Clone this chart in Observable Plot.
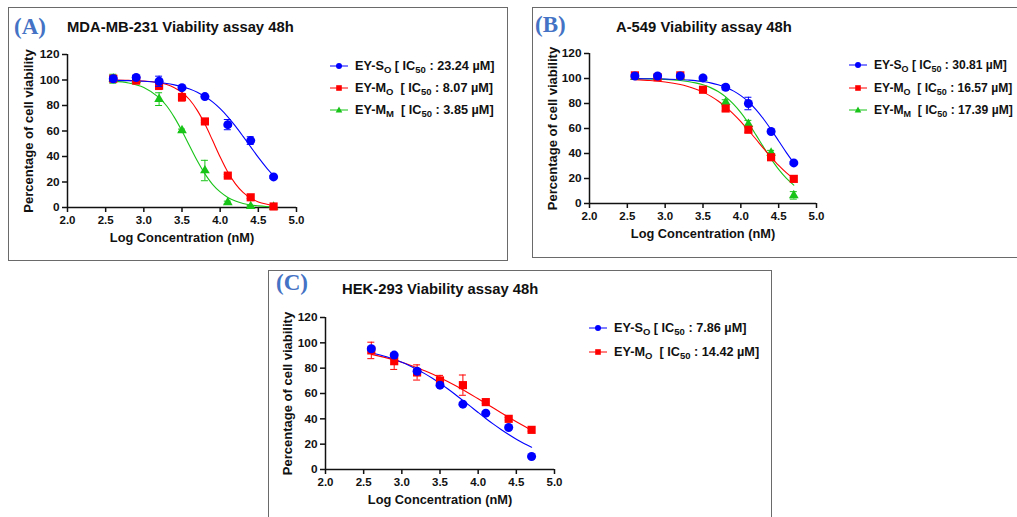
<!DOCTYPE html>
<html><head><meta charset="utf-8">
<script src="https://cdn.jsdelivr.net/npm/d3@7"></script>
<script src="https://cdn.jsdelivr.net/npm/@observablehq/plot@0.6"></script>
<style>
body{margin:0;background:#fff;font-family:Arial,"Liberation Sans",sans-serif;}
#root{position:relative;width:1017px;height:517px;overflow:hidden;background:#fff;}
.box{position:absolute;border:1.5px solid #6a6a6a;box-sizing:border-box;}
.tag{position:absolute;font-family:"Liberation Serif","Times New Roman",serif;font-weight:bold;color:#4472c4;font-size:23px;line-height:23px;white-space:nowrap;}
.title{position:absolute;font-weight:bold;font-size:14.8px;line-height:15px;white-space:nowrap;color:#111;}
.plot{position:absolute;}
.lrow{position:absolute;height:14px;display:flex;align-items:center;font-weight:bold;font-size:12.7px;white-space:nowrap;color:#111;}
.lrow.tight{font-size:12.1px;}
.lrow svg{margin-right:7px;}
.sub{font-size:9.5px;position:relative;top:3px;}
.tight .sub{font-size:9px;}
</style>
</head><body><div id="root"></div>
<script>
// ---------------- data ----------------
const doses = [2.6, 2.9, 3.2, 3.5, 3.8, 4.1, 4.4, 4.7];
const fitX = [2.6, 2.8, 3.0, 3.2, 3.3, 3.4, 3.5, 3.6, 3.7, 3.8, 3.9, 4.0, 4.1, 4.2, 4.3, 4.4, 4.5, 4.6, 4.7];
const xTickValues = [2.0, 2.5, 3.0, 3.5, 4.0, 4.5, 5.0];
const yTickValues = [0, 20, 40, 60, 80, 100, 120];
const seriesNames = ["EY-S_O", "EY-M_O", "EY-M_M"];

// Panel A: MDA-MB-231
const A_So = [101, 102, 99, 94, 87, 65, 52.5, 24];
const A_So_err = [2, 1.5, 4, 1, 1, 4, 3, 1];
const A_Mo = [101, 99.5, 95.5, 86.5, 67.5, 25, 8, 0.8];
const A_Mo_err = [2, 1, 3, 3, 1, 1, 1, 0.5];
const A_Mm = [101, 100, 85, 60.5, 29, 4, 1, 0.5];
const A_Mm_err = [3.5, 1, 5, 1, 8, 1, 0.5, 0.5];
const A_So_fit = [99.7, 99.5, 99.0, 98.0, 97.3, 96.2, 94.8, 92.9, 90.4, 87.0, 82.8, 77.5, 71.1, 63.8, 55.8, 47.5, 39.3, 31.7, 24.9];
const A_Mo_fit = [99.9, 99.7, 99.2, 97.8, 96.4, 94.0, 90.2, 84.5, 76.2, 65.4, 52.7, 39.6, 27.8, 18.5, 11.8, 7.3, 4.4, 2.7, 1.6];
const A_Mm_fit = [99.1, 97.7, 94.2, 86.2, 79.6, 70.7, 60.0, 48.2, 36.6, 26.4, 18.2, 12.2, 7.9, 5.1, 3.2, 2.0, 1.3, 0.8, 0.5];
const A_ic50 = ["23.24", "8.07", "3.85"];

// Panel B: A-549
const B_So = [102, 102, 102, 100.5, 93, 80, 57.6, 32.5];
const B_So_err = [1, 1, 1, 1, 2, 5, 1, 1];
const B_Mo = [102.5, 101, 102.5, 91, 76, 59, 37, 19.7];
const B_Mo_err = [1, 1, 1, 1, 2, 2, 2, 1];
const B_Mm = [101, 101, 101, 100, 81, 63.5, 40.5, 6.5];
const B_Mm_err = [1, 1, 1, 1, 2, 3, 2, 3];
const B_So_fit = [99.9, 99.8, 99.6, 99.2, 98.8, 98.3, 97.5, 96.5, 95.0, 92.9, 90.1, 86.3, 81.4, 75.1, 67.6, 59.1, 50.0, 40.9, 32.4];
const B_Mo_fit = [99.1, 98.4, 97.2, 95.2, 93.6, 91.6, 89.1, 85.9, 82.0, 77.3, 71.7, 65.5, 58.6, 51.4, 44.1, 37.1, 30.5, 24.7, 19.7];
const B_Mm_fit = [99.8, 99.7, 99.3, 98.4, 97.6, 96.5, 95.0, 92.7, 89.6, 85.3, 79.7, 72.7, 64.3, 54.9, 45.1, 35.7, 27.3, 20.3, 14.7];
const B_ic50 = ["30.81", "16.57", "17.39"];

// Panel C: HEK-293
const C_So = [95.3, 90.3, 77.6, 66.6, 51.6, 44.5, 33.2, 10.3];
const C_So_err = [1, 1, 1, 1, 1, 1, 1, 1];
const C_Mo = [94, 85.5, 76.6, 70.3, 66.6, 53.2, 40, 31.3];
const C_Mo_err = [6.5, 6.5, 6, 4, 8, 1, 1, 1];
const C_So_fit = [92.2, 89.0, 84.7, 79.0, 75.7, 72.0, 68.0, 63.7, 59.2, 54.5, 49.8, 45.0, 40.3, 35.8, 31.6, 27.6, 23.9, 20.6, 17.6];
const C_Mo_fit = [90.9, 88.1, 84.7, 80.4, 78.0, 75.4, 72.5, 69.5, 66.3, 62.9, 59.4, 55.8, 52.2, 48.5, 44.8, 41.2, 37.7, 34.3, 31.0];
const C_ic50 = ["7.86", "14.42"];

const titles = ["MDA-MB-231 Viability assay 48h", "A-549 Viability assay 48h", "HEK-293 Viability assay 48h"];
const tags = ["(A)", "(B)", "(C)"];
const yLabel = "Percentage of cell viability";
const xLabel = "Log Concentration (nM)";

// ---------------- styles ----------------
const COLORS = {So: "#0000ff", Mo: "#ff0000", Mm: "#19c419"};
const SYMBOLS = {So: "circle", Mo: "square", Mm: "triangle"};
const RADII = {So: 4.5, Mo: 4.6, Mm: 3.6};

const root = document.getElementById("root");

function el(cls, style, html) {
  const d = document.createElement("div");
  d.className = cls;
  Object.assign(d.style, style);
  if (html != null) d.innerHTML = html;
  root.appendChild(d);
  return d;
}

function points(vals, errs) {
  return doses.map((x, i) => ({x, y: vals[i], e: errs[i]}));
}
function fit(vals) {
  return fitX.map((x, i) => ({x, y: vals[i]}));
}

function panel(cfg) {
  const ml = 60, mr = 16, mt = 16, mb = 50;
  const W = (cfg.x1 - cfg.x0) + ml + mr;
  const H = (cfg.y0 - cfg.y120) + mt + mb;
  const marks = [
    Plot.ruleX([2], {strokeWidth: 1.5}),
    Plot.ruleY([0], {strokeWidth: 1.5}),
    Plot.axisX({ticks: xTickValues, tickFormat: d3.format(".1f"), tickSize: 5, tickPadding: 3, fontSize: 11.5, fontWeight: "bold", strokeWidth: 1.5, label: null}),
    Plot.axisY({ticks: yTickValues, tickSize: 5, tickPadding: 3, fontSize: 11.8, fontWeight: "bold", strokeWidth: 1.5, label: null}),
    Plot.text([yLabel], {text: d => d, frameAnchor: "left", dx: cfg.ylDx, rotate: -90, fontSize: 13, fontWeight: "bold", textAnchor: "middle"}),
    Plot.text([xLabel], {text: d => d, frameAnchor: "bottom", dy: 34, fontSize: 12.8, fontWeight: "bold", textAnchor: "middle"})
  ];
  for (const s of cfg.series) {
    marks.push(Plot.line(fit(s.fit), {x: "x", y: "y", stroke: COLORS[s.key], strokeWidth: 1.1, curve: "catmull-rom"}));
  }
  for (const s of cfg.series) {
    const p = points(s.vals, s.errs);
    const c = COLORS[s.key];
    marks.push(Plot.ruleX(p, {x: "x", y1: d => d.y - d.e, y2: d => d.y + d.e, stroke: c, strokeWidth: 1}));
    marks.push(Plot.ruleY(p, {y: d => d.y + d.e, x1: "x", x2: "x", insetLeft: -3.5, insetRight: -3.5, stroke: c, strokeWidth: 1}));
    marks.push(Plot.ruleY(p, {y: d => d.y - d.e, x1: "x", x2: "x", insetLeft: -3.5, insetRight: -3.5, stroke: c, strokeWidth: 1}));
    marks.push(Plot.dot(p, {x: "x", y: "y", symbol: SYMBOLS[s.key], r: RADII[s.key], fill: c, stroke: "none"}));
  }
  const svg = Plot.plot({
    width: W, height: H,
    marginLeft: ml, marginRight: mr, marginTop: mt, marginBottom: mb,
    x: {domain: [2, 5]},
    y: {domain: [0, 120]},
    style: {fontFamily: "Arial, 'Liberation Sans', sans-serif", background: "transparent", overflow: "visible", color: "#111"},
    marks
  });
  const wrap = el("plot", {left: (cfg.x0 - ml) + "px", top: (cfg.y120 - mt) + "px"});
  wrap.appendChild(svg);
}

function nameHTML(name) {
  const [base, sub] = name.split("_");
  return `${base}<span class="sub">${sub}</span>`;
}

function swatch(key) {
  const c = COLORS[key];
  let m;
  if (key === "So") m = `<circle cx="9" cy="5" r="3" fill="${c}"/>`;
  else if (key === "Mo") m = `<rect x="6.2" y="2.2" width="5.6" height="5.6" fill="${c}"/>`;
  else m = `<path d="M9,1.6 L12.3,7.5 L5.7,7.5 Z" fill="${c}"/>`;
  return `<svg width="18" height="10"><line x1="0" x2="18" y1="5" y2="5" stroke="${c}" stroke-width="1"/>${m}</svg>`;
}

function legend(left, top, gap, keys, ic50s, tight) {
  keys.forEach((k, i) => {
    const idx = {So: 0, Mo: 1, Mm: 2}[k];
    const spacer = k === "So" ? " " : "&nbsp; ";
    const html = swatch(k) + `<span>${nameHTML(seriesNames[idx])}${spacer}[ IC<span class="sub">50</span> : ${ic50s[i]} µM]</span>`;
    el(tight ? "lrow tight" : "lrow", {left: left + "px", top: (top + i * gap - 7) + "px"}, html);
  });
}

// ---------------- boxes ----------------
el("box", {left: "8px", top: "7px", width: "500px", height: "254px"});
el("box", {left: "532px", top: "7px", width: "500px", height: "251px"});
el("box", {left: "268px", top: "270px", width: "504px", height: "260px"});

// titles & tags
el("tag", {left: "14px", top: "15px"}, tags[0]);
el("title", {left: "67px", top: "20px"}, titles[0]);
el("tag", {left: "535px", top: "13px"}, tags[1]);
el("title", {left: "616px", top: "20px"}, titles[1]);
el("tag", {left: "276px", top: "271px"}, tags[2]);
el("title", {left: "342px", top: "282px"}, titles[2]);

// plots
panel({x0: 67, x1: 296, y0: 207, y120: 54, ylDx: -39, series: [
  {key: "Mm", vals: A_Mm, errs: A_Mm_err, fit: A_Mm_fit},
  {key: "Mo", vals: A_Mo, errs: A_Mo_err, fit: A_Mo_fit},
  {key: "So", vals: A_So, errs: A_So_err, fit: A_So_fit}
]});
panel({x0: 589, x1: 816, y0: 203, y120: 53, ylDx: -37, series: [
  {key: "Mm", vals: B_Mm, errs: B_Mm_err, fit: B_Mm_fit},
  {key: "Mo", vals: B_Mo, errs: B_Mo_err, fit: B_Mo_fit},
  {key: "So", vals: B_So, errs: B_So_err, fit: B_So_fit}
]});
panel({x0: 325, x1: 554, y0: 469, y120: 317, ylDx: -38, series: [
  {key: "Mo", vals: C_Mo, errs: C_Mo_err, fit: C_Mo_fit},
  {key: "So", vals: C_So, errs: C_So_err, fit: C_So_fit}
]});

// legends
legend(330, 66, 22, ["So", "Mo", "Mm"], A_ic50, false);
legend(849, 65, 22.5, ["So", "Mo", "Mm"], B_ic50, true);
legend(589, 328, 24, ["So", "Mo"], C_ic50, false);
</script>
</body></html>
